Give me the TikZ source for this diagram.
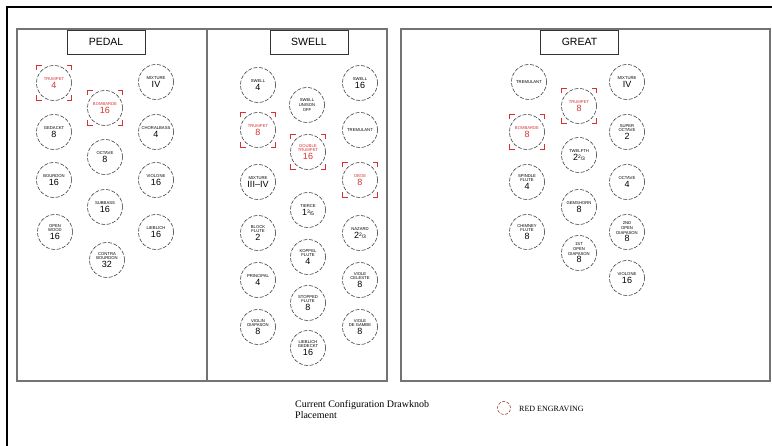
\documentclass[tikz,border=0pt]{standalone}
\usepackage{fontspec}
\setmainfont{Liberation Serif}
\setsansfont{Liberation Sans}
\definecolor{engr}{RGB}{215,50,50}
\newcommand\kn[2]{#1\\[0.4pt]{\fontsize{9}{9}\selectfont #2}}
\newcommand\fr[3]{#1{\fontsize{5}{5}\selectfont\raisebox{1.6pt}{#2}/#3}}
\newcommand\rb[1]{\foreach \sx/\sy in {1/1,1/-1,-1/1,-1/-1}{\draw[engr, line width=0.8pt] ([shift={(\sx*17.5,\sy*12.5)}]#1.center) -- ++(0,\sy*5) -- ++(-\sx*5,0);}}
\begin{document}
\begin{tikzpicture}[x=1pt,y=-1pt,
 knob/.style={circle, draw=black!85, line width=0.5pt, dash pattern=on 4pt off 1.6pt, minimum size=35pt, inner sep=0pt, align=center, font=\sffamily\fontsize{4.2}{4.6}\selectfont},
 redknob/.style={knob, text=engr},
 panel/.style={draw=black!55, line width=1.1pt},
 titlebox/.style={draw=black!80, line width=0.6pt, minimum width=78pt, minimum height=24pt, inner sep=0pt, font=\sffamily\fontsize{10.5}{12}\selectfont},
 frame/.style={draw=black, line width=1.3pt}]
\useasboundingbox (0,0) rectangle (772,446);
\fill[white] (0,0) rectangle (772,446);
% outer frame
\coordinate (fa) at (7,446);
\coordinate (fb) at (7,7);
\coordinate (fc) at (772,7);
\draw[frame] (fa) -- (fb) -- (fc);
% panels
\draw[panel] (17,29) rectangle (207,381);
\draw[panel] (207,29) rectangle (387,381);
\draw[panel] (401,29) rectangle (770,381);
% titles
\node[titlebox] (tp) at (106,42) {PEDAL};
\node[titlebox] (ts) at (309,42) {SWELL};
\node[titlebox] (tg) at (579.5,42) {GREAT};
% PEDAL
\node[redknob] (p1) at (54,83) {\kn{TRUMPET}{4}};
\node[knob] (p2) at (156,82) {\kn{MIXTURE}{IV}};
\node[redknob] (p3) at (105,108) {\kn{BOMBARDE}{16}};
\node[knob] (p4) at (54,132) {\kn{GEDACKT}{8}};
\node[knob] (p5) at (156,132) {\kn{CHORALBASS}{4}};
\node[knob] (p6) at (105,157) {\kn{OCTAVE}{8}};
\node[knob] (p7) at (54,180) {\kn{BOURDON}{16}};
\node[knob] (p8) at (156,180) {\kn{VIOLONE}{16}};
\node[knob] (p9) at (105,207) {\kn{SUBBASS}{16}};
\node[knob] (p10) at (55,232) {\kn{OPEN\\WOOD}{16}};
\node[knob] (p11) at (156,232) {\kn{LIEBLICH}{16}};
\node[knob] (p12) at (107,260) {\kn{CONTRA\\BOURDON}{32}};
\rb{p1}\rb{p3}
% SWELL
\node[knob] (s1) at (258,85) {\kn{SWELL}{4}};
\node[knob] (s2) at (360,83) {\kn{SWELL}{16}};
\node[knob] (s3) at (307,105) {SWELL\\UNISON\\OFF};
\node[redknob] (s4) at (258,130) {\kn{TRUMPET}{8}};
\node[knob] (s5) at (360,130) {TREMULANT};
\node[redknob] (s6) at (308,152) {\kn{DOUBLE\\TRUMPET}{16}};
\node[redknob] (s7) at (360,180) {\kn{OBOE}{8}};
\node[knob] (s8) at (258,182) {\kn{MIXTURE}{III--IV}};
\node[knob] (s9) at (308,210) {\kn{TIERCE}{\fr{1}{3}{5}}};
\node[knob] (s10) at (258,233) {\kn{BLOCK\\FLUTE}{2}};
\node[knob] (s11) at (360,233) {\kn{NAZARD}{\fr{2}{2}{3}}};
\node[knob] (s12) at (308,257) {\kn{KOPPEL\\FLUTE}{4}};
\node[knob] (s13) at (258,280) {\kn{PRINCIPAL}{4}};
\node[knob] (s14) at (360,280) {\kn{VIOLE\\CELESTE}{8}};
\node[knob] (s15) at (308,303) {\kn{STOPPED\\FLUTE}{8}};
\node[knob] (s16) at (258,327) {\kn{VIOLIN\\DIAPASON}{8}};
\node[knob] (s17) at (360,327) {\kn{VIOLE\\DE GAMBE}{8}};
\node[knob] (s18) at (308,348) {\kn{LIEBLICH\\GEDECKT}{16}};
\rb{s4}\rb{s6}\rb{s7}
% GREAT
\node[knob] (g1) at (529,82) {TREMULANT};
\node[knob] (g2) at (627,82) {\kn{MIXTURE}{IV}};
\node[redknob] (g3) at (579,106) {\kn{TRUMPET}{8}};
\node[redknob] (g4) at (527,132) {\kn{BOMBARDE}{8}};
\node[knob] (g5) at (627,132) {\kn{SUPER\\OCTAVE}{2}};
\node[knob] (g6) at (579,155) {\kn{TWELFTH}{\fr{2}{2}{3}}};
\node[knob] (g7) at (527,182) {\kn{SPINDLE\\FLUTE}{4}};
\node[knob] (g8) at (627,182) {\kn{OCTAVE}{4}};
\node[knob] (g9) at (579,207) {\kn{GEMSHORN}{8}};
\node[knob] (g10) at (527,232) {\kn{CHIMNEY\\FLUTE}{8}};
\node[knob] (g11) at (627,232) {\kn{2ND\\OPEN\\DIAPASON}{8}};
\node[knob] (g12) at (579,253) {\kn{1ST\\OPEN\\DIAPASON}{8}};
\node[knob] (g13) at (627,278) {\kn{VIOLONE}{16}};
\rb{g3}\rb{g4}
% legend
\node[anchor=north west, align=left, inner sep=0pt, font=\fontsize{10}{11.5}\selectfont] (lg) at (295,400) {Current Configuration Drawknob\\Placement};
\node[circle, draw=engr!70!black, line width=0.5pt, dash pattern=on 3pt off 1.5pt, minimum size=13pt, inner sep=0pt] (lc) at (504,408) {};
\node[anchor=west, inner sep=0pt, font=\fontsize{8}{9}\selectfont] (lt) at (519,409) {RED ENGRAVING};
\end{tikzpicture}
\end{document}
